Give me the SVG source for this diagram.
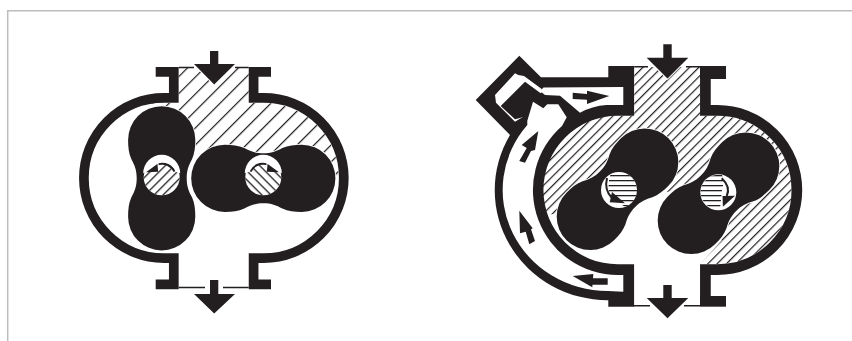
<svg xmlns="http://www.w3.org/2000/svg" xmlns:xlink="http://www.w3.org/1999/xlink" width="852" height="341" viewBox="0 0 852 341">
<style>
.ink{fill:#231f20}
.wall{fill:none;stroke:#231f20;stroke-linejoin:miter}
.blank{fill:#fff}
.lobe{fill:#231f20;stroke:#fff;stroke-width:1.5;paint-order:stroke}
.arrow{fill:#231f20;stroke:#fff;stroke-width:2;paint-order:stroke}
.thin{stroke:#231f20;stroke-width:1.5;fill:none}
.arc{fill:none;stroke:#231f20;stroke-width:2}
.frame{fill:none;stroke:#bdbdbd;stroke-width:1.5}
</style>
<defs>
<pattern id="hatchL" width="12" height="12" patternUnits="userSpaceOnUse" patternTransform="rotate(45)"><rect width="1.2" height="12" fill="#231f20"/></pattern>
<pattern id="hatchR" width="6.6" height="6.6" patternUnits="userSpaceOnUse" patternTransform="rotate(45)"><rect width="1.2" height="6.6" fill="#231f20"/></pattern>
<pattern id="hatchS" width="6.4" height="6.4" patternUnits="userSpaceOnUse" patternTransform="rotate(45)"><rect width="1.3" height="6.4" fill="#231f20"/></pattern>
<pattern id="hatchH" width="10" height="5" patternUnits="userSpaceOnUse"><rect width="10" height="1.3" fill="#231f20"/></pattern>
<path id="lobe" d="M0,-25C8,-25 13,-27 19,-30.3C25,-33 31,-33.6 38.5,-33.6A33.6,33.6 0 0 1 38.5,33.6C31,33.6 25,33 19,30.3C13,27 8,25 0,25C-8,25 -13,27 -19,30.3C-25,33 -31,33.6 -38.5,33.6A33.6,33.6 0 0 1 -38.5,-33.6C-31,-33.6 -25,-33 -19,-30.3C-13,-27 -8,-25 0,-25Z"/>
<g id="shaftL">
<circle r="18" class="blank"/>
<circle r="18" fill="url(#hatchS)"/>
<path d="M-18.5,-4A18.5,18.5 0 0 1 18.5,-4L12.7,-5.7A13.5,13.5 0 0 0 -3,-13.2L-15.7,-5Z" class="blank"/>
<path d="M12.7,-5.7A13.5,13.5 0 0 0 -3,-13.2" class="arc"/>
<path d="M-15.7,-5L-4.4,-13.3L-3.4,-5.6Z" class="ink"/>
</g>
</defs>
<path class="frame" d="M7.7,341V10.7H852"/>
<g id="pump-left">
<path d="M152,103H178.7V67.7H248.7V103H263.7A75,75 0 0 1 338.7,176L263,178L200,160L190,153L170,130Z" fill="url(#hatchL)"/>
<path class="wall" stroke-width="9.7" d="M155.7,71.9H173.8V97.9H164A80.1,80.1 0 0 0 164,258.1H173.8V284.4H155.7"/>
<path class="wall" stroke-width="9.7" d="M271,71.9H253.6V97.9H263.7A80.1,80.1 0 0 1 263.7,258.1H253.6V284.4H271"/>
<use href="#lobe" class="lobe" transform="translate(161.7,178.3) rotate(90)"/>
<use href="#lobe" class="lobe" transform="translate(263.3,178.3)"/>
<use href="#shaftL" transform="translate(161.7,177.3)"/>
<use href="#shaftL" transform="translate(263.3,177.3) scale(-1,1)"/>
<path class="thin" d="M178.7,67.4H194M235,67.4H248.7M178.7,287.6H205M223,287.6H248.7"/>
<path class="arrow" d="M210,51H218.3V64H235L214.2,84.5L194,64H210Z"/>
<path class="arrow" d="M210,280H218.3V294H235L214.2,313.5L194,294H210Z"/>
</g>
<g id="pump-right">
<path class="ink" d="M541,77.3H608.3V66H634.3V306.7H608.3V300.2A113,110 0 0 1 510,135L475.7,100L519.3,55.7Z"/>
<path class="blank" d="M540,91L543.5,87.5L623.3,87V105H606.7Q592,106 580,112.7L560,95.7L545,95Z"/>
<path class="blank" d="M515,73.3L518.3,75L524,76L541.7,89L542,92L540.7,93.3L525,81.7L500.7,106L515,119.3L520,118L523.3,116.7L515,121.7L496,102.7L495,95Z"/>
<path class="blank" d="M623.3,275V291.7L608,291A105,101 0 0 1 527.3,125L527.3,120.7L533,101.7L543.3,108.3L547.3,104.3L558.3,104.3L566.7,117.3L562,126A85,85 0 0 0 617.7,275Z"/>
<path class="blank" d="M634.3,60H700V115.7H717.3A74.3,74.3 0 0 1 717.3,264.3H700V310H634.3V264.3H617.7A74.3,74.3 0 0 1 617.7,115.7H634.3Z"/>
<path d="M546,215A74.3,74.3 0 0 1 617.7,115.7H634.3V67H700V115.7H717.3A74.3,74.3 0 0 1 717.3,264.3H700L722,240L672,191L560,213Z" fill="url(#hatchR)"/>
<path class="wall" stroke-width="10.7" d="M705.4,66V110.4H717.3A79.6,79.6 0 0 1 717.3,269.6H705.4V306"/>
<rect class="ink" x="700" y="66" width="26" height="13"/>
<rect class="ink" x="700" y="296" width="26" height="10.7"/>
<use href="#lobe" class="lobe" transform="translate(617.5,189.3) rotate(-45)"/>
<use href="#lobe" class="lobe" transform="translate(718.5,193.3) rotate(-45)"/>
<g id="shaft-r1">
<circle cx="619" cy="190" r="18" class="blank"/>
<path d="M611,172.5A18,18 0 0 1 619,172A18,18 0 0 1 625,207L611,197Q606,188 611,172.5Z" fill="url(#hatchH)"/>
<path d="M607,178Q604,190 612,198" class="arc" stroke-width="2.5"/>
<path class="ink" d="M625,203.3L609.7,202.3L612,192Z"/>
</g>
<g id="shaft-r2">
<circle cx="718.3" cy="192.3" r="18" class="blank"/>
<path d="M722,175A18,18 0 0 0 700.5,192.3A18,18 0 0 0 720,209.5L722,190Q725,180 722,175Z" fill="url(#hatchH)"/>
<path d="M721.7,178.3Q731,187 726.7,196" class="arc" stroke-width="2.5"/>
<path class="ink" d="M722.9,206.7L722.5,196L735,195.7Z"/>
</g>
<path class="thin" d="M634.3,66.7H648M686,66.7H700M633.3,305.7H650M684,305.7H700"/>
<path class="arrow" d="M663.3,44.3H671.7V57.7H688.3L667.5,78.5L646.7,57.7H663.3Z"/>
<path class="arrow" d="M663.3,285H671.7V298H688.3L667.5,318.3L646.7,298H663.3Z"/>
<g id="bypass-arrows">
<path class="ink" d="M572.7,92.7L587,94V90.7L609.3,96L587,104V99.7L572.7,99Z"/>
<path class="ink" d="M538.3,131L521.7,145L526.7,148L519.3,161L525,162.7L531,151L535,150Z"/>
<path class="ink" d="M519.3,210.7L520,233.3L525.7,231.7L529.3,244.3L535,241L531,229.3L532.7,228.3Z"/>
<path class="ink" d="M572.7,276L593.3,274L593,278.3H607.7V284.7H592.5L592.3,287.3Z"/>
</g>
</g>
</svg>
